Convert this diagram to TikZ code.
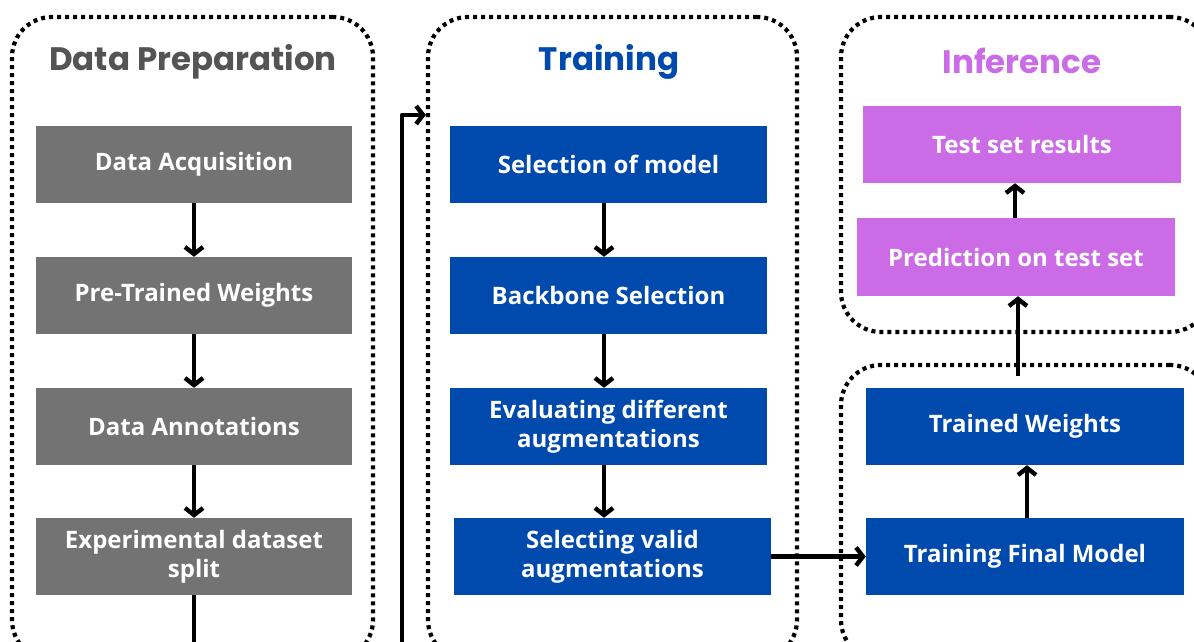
\documentclass[tikz,border=0pt]{standalone}
\usepackage{fontspec}
\setmainfont{Open Sans}
\newfontfamily\titlefont{Poppins}
\usetikzlibrary{arrows.meta}
\definecolor{boxgray}{HTML}{737373}
\definecolor{boxblue}{HTML}{004AAD}
\definecolor{boxpurple}{HTML}{CB6CE6}
\definecolor{titlegray}{HTML}{545454}
\tikzset{
  container/.style={draw=black, line width=4.2pt, dash pattern=on 4pt off 4pt, rounded corners=40pt, inner sep=0pt},
  stepbox/.style={minimum width=316pt, minimum height=77pt, inner sep=2pt, text=white, align=center, font=\fontsize{24}{29}\selectfont\bfseries},
  graybox/.style={stepbox, fill=boxgray},
  bluebox/.style={stepbox, fill=boxblue},
  purplebox/.style={stepbox, fill=boxpurple},
  ttl/.style={font=\titlefont\fontsize{32.5}{36}\selectfont\bfseries},
  conn/.style={draw=black, line width=4.4pt, line join=round, -{Straight Barb[length=7pt,width=18pt,line width=4.4pt]}},
}
\begin{document}
\begin{tikzpicture}[x=1pt,y=-1pt]
\useasboundingbox (0,0) rectangle (1194,642);
\fill[white] (0,0) rectangle (1194,642);
% containers
\node[container, minimum width=361pt, minimum height=643pt] (prepbox) at (192.5,338.5) {};
\node[container, minimum width=369pt, minimum height=643pt] (trainbox) at (612.5,338.5) {};
\node[container, minimum width=369pt, minimum height=315pt] (infbox) at (1025.5,174.5) {};
\node[container, minimum width=369pt, minimum height=295pt] (lowbox) at (1025.5,512.5) {};
% titles
\node[ttl, text=titlegray] (t1) at (193,62) {Data Preparation};
\node[ttl, text=boxblue] (t2) at (609,62) {Training};
\node[ttl, text=boxpurple] (t3) at (1022,61) {Inference};
% data preparation
\node[graybox] (da) at (194,164.5) {Data Acquisition};
\node[graybox] (ptw) at (194,295.5) {Pre-Trained Weights};
\node[graybox] (dann) at (194,426.5) {Data Annotations};
\node[graybox] (eds) at (194,556.5) {Experimental dataset\\split};
% training
\node[bluebox, minimum width=317pt] (sel) at (608.5,164.5) {Selection of model};
\node[bluebox, minimum width=317pt] (bb) at (608.5,295.5) {Backbone Selection};
\node[bluebox, minimum width=317pt] (eva) at (608.5,426.5) {Evaluating different\\augmentations};
\node[bluebox, minimum width=317pt] (sva) at (612.5,556.5) {Selecting valid\\augmentations};
% final / inference
\node[bluebox, minimum width=318pt] (tw) at (1025,426.5) {Trained Weights};
\node[bluebox, minimum width=318pt] (tfm) at (1025,556.5) {Training Final Model};
\node[purplebox, minimum width=318pt] (tsr) at (1022,144.5) {Test set results};
\node[purplebox, minimum width=318pt, minimum height=78pt] (pts) at (1016,257) {Prediction on test set};
% coordinates
\coordinate (loopA) at (194,690);
\coordinate (loopB) at (402,690);
\coordinate (loopC) at (402,115);
\coordinate (twtop) at (1018,376);
% connectors
\draw[conn] (da.south) -- (ptw.north);
\draw[conn] (ptw.south) -- (dann.north);
\draw[conn] (dann.south) -- (eds.north);
\draw[conn] (sel.south -| 604,0) -- (bb.north -| 604,0);
\draw[conn] (bb.south -| 604,0) -- (eva.north -| 604,0);
\draw[conn] (eva.south -| 604,0) -- (sva.north -| 604,0);
\draw[conn] (sva.east) -- (tfm.west);
\draw[conn] (tfm.north -| 1027,0) -- (tw.south -| 1027,0);
\draw[conn] (twtop) -- (twtop |- pts.south);
\draw[conn] (pts.north -| 1015,0) -- (tsr.south -| 1015,0);
\draw[conn] (eds.south) -- (loopA) -- (loopB) -- (loopC) -- (loopC -| trainbox.west);
\end{tikzpicture}
\end{document}
